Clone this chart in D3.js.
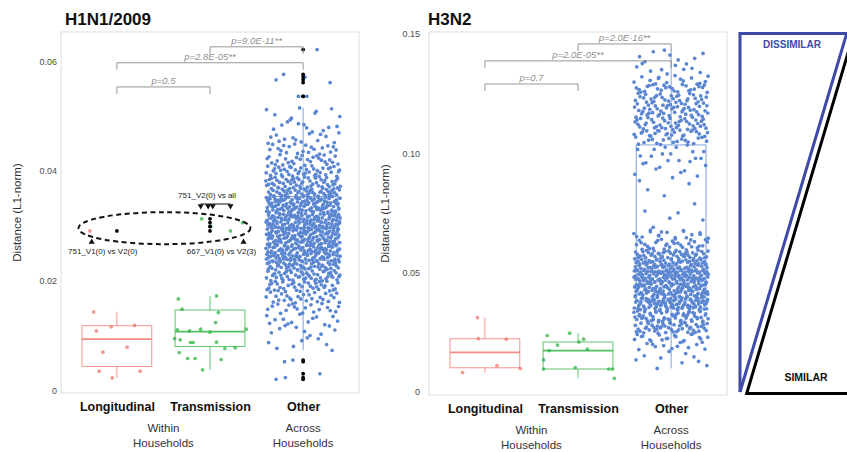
<!DOCTYPE html>
<html>
<head>
<meta charset="utf-8">
<script src="https://cdn.jsdelivr.net/npm/d3@7"></script>
<style>
body{margin:0;background:#fff;}
text{font-family:Arial,"Liberation Sans",sans-serif;}
</style>
</head>
<body>
<div id="chart"></div>
<script>
////////////////////////////////////////
// data
////////////////////////////////////////

var categories = ['Longitudinal','Transmission','Other'];

// H1N1/2009
var h1Longitudinal = [0.01436,0.0109,0.01164,0.0119,0.00703,0.00794,0.00358,0.00358,0.00236,0.0291];
var h1Transmission = [0.01673,0.01727,0.01485,0.01424,0.01242,0.01109,0.0109,0.01121,0.01067,0.01121,0.0095,
	0.00927,0.00879,0.00879,0.00885,0.0077,0.00782,0.00697,0.00588,0.00588,0.0057,0.00382,
	0.0313,0.0306,0.0299,0.0291];
// bulk of the across-household pairs, as counts per band [low, high, count]
var h1OtherBins = [[0.0072,0.0100,8],[0.0100,0.0120,9],[0.0120,0.0140,13],[0.0140,0.0160,19],[0.0160,0.0180,27],
	[0.0180,0.0200,38],[0.0200,0.0220,50],[0.0220,0.0236,50],[0.0236,0.0265,110],[0.0265,0.0295,118],
	[0.0295,0.0325,118],[0.0325,0.0354,112],[0.0354,0.0370,48],[0.0370,0.0390,50],[0.0390,0.0410,38],
	[0.0410,0.0430,28],[0.0430,0.0450,20],[0.0450,0.0470,14],[0.0470,0.0490,10],[0.0490,0.0515,9]];
var h1OtherExtremes = [0.0621,0.0576,0.0571,0.0566,0.0561,0.0536,0.0536,0.0056,0.0053,0.0031,0.0024,0.0021];
var h1Pvalues = ['p=0.5','p=2.8E-05**','p=9.0E-11**'];

// H3N2
var h3Longitudinal = [0.0311,0.0223,0.0221,0.0110,0.0081,0.0098];
var h3Transmission = [0.0236,0.0246,0.0209,0.0221,0.0196,0.0179,0.0173,0.0134,0.0096,0.0102,0.0096,0.0096,0.0057];
var h3OtherBins = [[0.0092,0.0140,5],[0.0140,0.0176,5],[0.0176,0.0210,12],[0.0210,0.0247,20],[0.0247,0.0290,45],
	[0.0290,0.0344,65],[0.0344,0.0400,95],[0.0400,0.0460,100],[0.0460,0.0511,95],[0.0511,0.0555,70],
	[0.0555,0.0595,50],[0.0595,0.0640,30],[0.0640,0.0679,18],[0.0679,0.0800,6],[0.0800,0.0901,5],
	[0.0901,0.0960,8],[0.0960,0.1035,17],[0.1035,0.1070,18],[0.1070,0.1098,22],[0.1098,0.1150,40],
	[0.1150,0.1200,40],[0.1200,0.1253,38],[0.1253,0.1290,25],[0.1290,0.1330,14],[0.1330,0.1378,10],
	[0.1378,0.1433,8]];
var h3OtherExtremes = [];
var h3Pvalues = ['p=0.7','p=2.0E-05**','p=2.0E-16**'];

// jitter offsets (fraction of a category step)
var h1LongJitter = [-0.25,-0.22,-0.06,0.19,-0.15,0.11,-0.19,0.25,-0.05,-0.29];
var h1TransJitter = [-0.34,0.07,-0.30,0.09,0.06,-0.35,-0.22,-0.10,0.0,0.39,-0.38,-0.32,-0.21,-0.18,0.07,0.16,0.27,
	-0.33,-0.24,-0.16,0.12,-0.08,-0.09,0.35,0.01,0.22];
var h1ExtremeJitter = [0.15,-0.21,0.02,-0.29,0.29,-0.05,0.04,-0.11,-0.2,0.18,-0.19,-0.29];
var h3LongJitter = [-0.08,-0.07,0.23,0.13,-0.24,0.38];
var h3TransJitter = [-0.33,-0.09,0.01,0.06,-0.22,0.10,-0.31,-0.37,-0.37,-0.03,0.33,0.37,0.39];

////////////////////////////////////////
// layout
////////////////////////////////////////

var W = 847, H = 452;
var colors = {Longitudinal:'#f3756d', Transmission:'#2fb344', Other:'#5b86d1'};

var svg = d3.select('#chart').append('svg')
	.attr('width',W).attr('height',H);

// quasi-random (Halton) spread of the points of a band, deterministic
function halton(i,b){
	var f = 1, r = 0;
	while(i>0){ f/=b; r+=f*(i%b); i=Math.floor(i/b); }
	return r;
}

function spreadBins(bins,offset){
	var out = [], k = offset;
	bins.forEach(function(b){
		for(var i=0;i<b[2];i++,k++){
			out.push({v:b[0]+(b[1]-b[0])*halton(k,2), j:(halton(k,3)-0.5)*0.8});
		}
	});
	return out;
}

function boxStats(vals){
	var s = vals.slice().sort(d3.ascending);
	var q1 = d3.quantileSorted(s,0.25), med = d3.quantileSorted(s,0.5), q3 = d3.quantileSorted(s,0.75);
	var iqr = q3-q1, lo = q1-1.5*iqr, hi = q3+1.5*iqr;
	var inside = s.filter(function(v){ return v>=lo && v<=hi; });
	return {q1:q1, med:med, q3:q3, wlo:d3.min(inside), whi:d3.max(inside),
		out:s.filter(function(v){ return v<lo || v>hi; })};
}

var panels = [
	{title:'H1N1/2009', left:61, right:359, top:32, bottom:393, domain:[-0.0004,0.0653],
		ticks:[0,0.02,0.04,0.06], pad:4, offset:7,
		groups:{
			Longitudinal:{vals:h1Longitudinal, jit:h1LongJitter},
			Transmission:{vals:h1Transmission, jit:h1TransJitter},
			Other:{bins:h1OtherBins, ext:h1OtherExtremes, jit:h1ExtremeJitter}
		},
		pvals:h1Pvalues, bracketAt:[0.0553,0.0597,0.0626]},
	{title:'H3N2', left:429, right:727, top:32, bottom:395, domain:[-0.0013,0.1508],
		ticks:[0,0.05,0.10,0.15], pad:9, offset:131,
		groups:{
			Longitudinal:{vals:h3Longitudinal, jit:h3LongJitter},
			Transmission:{vals:h3Transmission, jit:h3TransJitter},
			Other:{bins:h3OtherBins, ext:h3OtherExtremes, jit:[]}
		},
		pvals:h3Pvalues, bracketAt:[0.129,0.1387,0.1458]}
];

function tickFmt(d){ return d===0 ? '0' : d3.format('.2f')(d); }

////////////////////////////////////////
// panels
////////////////////////////////////////

panels.forEach(function(p,pi){
	var g = svg.append('g');
	var x = d3.scalePoint().domain(categories).range([p.left,p.right]).padding(0.6);
	var step = x.step();
	var y = d3.scaleLinear().domain(p.domain).range([p.bottom,p.top]);
	p.x = x; p.y = y; p.g = g;

	g.append('rect')
		.attr('x',p.left).attr('y',p.top)
		.attr('width',p.right-p.left).attr('height',p.bottom-p.top)
		.attr('fill','none').attr('stroke','#dedede').attr('stroke-width',1);

	g.append('text')
		.attr('x',p.left+(pi===0?4:-1)).attr('y',25)
		.attr('font-size',17).attr('font-weight','bold').attr('fill','#111')
		.text(p.title);

	var ya = g.append('g')
		.attr('transform','translate('+p.left+',0)')
		.call(d3.axisLeft(y).tickValues(p.ticks).tickFormat(tickFmt).tickSize(0).tickPadding(p.pad));
	ya.select('.domain').remove();
	ya.selectAll('text').attr('font-size',9).attr('fill','#4d4d4d').attr('font-family','Arial');

	g.append('text')
		.attr('transform','translate('+(p.left-40)+','+((p.top+p.bottom)/2)+') rotate(-90)')
		.attr('text-anchor','middle').attr('font-size',11.5).attr('fill','#333')
		.text('Distance (L1-norm)');

	var xa = g.append('g')
		.attr('transform','translate(0,'+p.bottom+')')
		.call(d3.axisBottom(x).tickSize(0).tickPadding(9));
	xa.select('.domain').remove();
	xa.selectAll('text').attr('font-size',12.5).attr('font-weight','bold').attr('fill','#111')
		.attr('font-family','Arial');

	var within = (x('Longitudinal')+x('Transmission'))/2;
	[[within,'Within','Households'],[x('Other'),'Across','Households']].forEach(function(t){
		var tt = g.append('text').attr('text-anchor','middle').attr('font-size',11.5).attr('fill','#333');
		tt.append('tspan').attr('x',t[0]).attr('y',p.bottom+39).text(t[1]);
		tt.append('tspan').attr('x',t[0]).attr('y',p.bottom+53.5).text(t[2]);
	});

	// build point lists
	var pts = {}, stats = {};
	categories.forEach(function(c){
		var gr = p.groups[c], list = [];
		if(gr.vals){
			gr.vals.forEach(function(v,i){ list.push({v:v, j:gr.jit[i]}); });
		} else {
			list = spreadBins(gr.bins,p.offset);
			gr.ext.forEach(function(v,i){ list.push({v:v, j:gr.jit[i]}); });
		}
		pts[c] = list;
		stats[c] = boxStats(list.map(function(d){ return d.v; }));
	});

	// boxes
	var bw = step*0.75;
	categories.forEach(function(c){
		var s = stats[c], cx = x(c), col = colors[c];
		var bg = g.append('g').attr('stroke',col).attr('fill','none').attr('stroke-opacity',0.85);
		bg.append('line').attr('x1',cx).attr('x2',cx).attr('y1',y(s.q3)).attr('y2',y(s.whi)).attr('stroke-width',0.9);
		bg.append('line').attr('x1',cx).attr('x2',cx).attr('y1',y(s.q1)).attr('y2',y(s.wlo)).attr('stroke-width',0.9);
		bg.append('rect').attr('x',cx-bw/2).attr('width',bw)
			.attr('y',y(s.q3)).attr('height',y(s.q1)-y(s.q3)).attr('stroke-width',0.9);
		bg.append('line').attr('x1',cx-bw/2).attr('x2',cx+bw/2)
			.attr('y1',y(s.med)).attr('y2',y(s.med)).attr('stroke-width',1.8);
	});

	// jittered points
	categories.forEach(function(c){
		g.append('g').selectAll('circle')
			.data(pts[c]).enter()
			.append('circle')
			.attr('cx',function(d){ return x(c)+d.j*step; })
			.attr('cy',function(d){ return y(d.v); })
			.attr('r',1.85)
			.attr('fill',colors[c])
			.attr('fill-opacity',c==='Other'?1:0.75);
	});

	// boxplot outliers
	categories.forEach(function(c){
		g.append('g').selectAll('circle')
			.data(stats[c].out).enter()
			.append('circle')
			.attr('cx',x(c))
			.attr('cy',function(d){ return y(d); })
			.attr('r',1.9)
			.attr('fill','#000');
	});

	// significance brackets
	var pairs = [['Longitudinal','Transmission'],['Longitudinal','Other'],['Transmission','Other']];
	pairs.forEach(function(pr,i){
		var yy = y(p.bracketAt[i]), x1 = x(pr[0]), x2 = x(pr[1]);
		g.append('path')
			.attr('d','M'+x1+','+(yy+7)+'V'+yy+'H'+x2+'V'+(yy+7))
			.attr('fill','none').attr('stroke','#8a8a8a').attr('stroke-width',0.9);
		g.append('text')
			.attr('x',(x1+x2)/2).attr('y',yy-3)
			.attr('text-anchor','middle').attr('font-size',9.5).attr('font-style','italic')
			.attr('fill','#8f8f8f')
			.text(p.pvals[i]);
	});
});

////////////////////////////////////////
// H1N1 annotation of the highlighted pairs
////////////////////////////////////////

var p1 = panels[0], ax = p1.x, ay = p1.y, st = ax.step(), ag = p1.g;
var ecx = (ax('Longitudinal')+ax('Transmission'))/2;

ag.append('ellipse')
	.attr('cx',ecx+1).attr('cy',ay(0.0296))
	.attr('rx',86).attr('ry',16)
	.attr('fill','none').attr('stroke','#111').attr('stroke-width',2)
	.attr('stroke-dasharray','5,3.5');

var tri = d3.symbol(d3.symbolTriangle).size(16);
var downMarks = [-0.10,-0.02,0.03,0.22];
downMarks.forEach(function(j){
	ag.append('path')
		.attr('d',tri())
		.attr('transform','translate('+(ax('Transmission')+j*st)+',206) rotate(180)')
		.attr('fill','#111');
});
ag.append('line')
	.attr('x1',ax('Transmission')+downMarks[0]*st).attr('x2',ax('Transmission')+downMarks[3]*st)
	.attr('y1',204).attr('y2',204).attr('stroke','#111').attr('stroke-width',1);
ag.append('text')
	.attr('x',ax('Transmission')-3).attr('y',198)
	.attr('text-anchor','middle').attr('font-size',8).attr('fill','#222')
	.text('751_V2(0) vs all');

[[ax('Longitudinal')-0.27*st,'751_V1(0) vs V2(0)',11],[ax('Transmission')+0.36*st,'667_V1(0) vs V2(3)',-22]]
	.forEach(function(a){
		ag.append('path')
			.attr('d',tri())
			.attr('transform','translate('+a[0]+',242)')
			.attr('fill','#111');
		ag.append('text')
			.attr('x',a[0]+a[2]).attr('y',253.5)
			.attr('text-anchor','middle').attr('font-size',8).attr('fill','#222')
			.text(a[1]);
	});

////////////////////////////////////////
// similarity wedge on the right
////////////////////////////////////////

var wedge = svg.append('g');
wedge.append('path')
	.attr('d','M740,392 L740,33.5 L900,33.5')
	.attr('fill','none').attr('stroke','#3e4aa6').attr('stroke-width',3);
wedge.append('path')
	.attr('d','M740,392 L846.7,33.5')
	.attr('fill','none').attr('stroke','#3e4aa6').attr('stroke-width',3);
wedge.append('path')
	.attr('d','M900,393.5 L746.7,393.5 L856,26')
	.attr('fill','none').attr('stroke','#000').attr('stroke-width',3);
wedge.append('text')
	.attr('x',792).attr('y',48).attr('text-anchor','middle')
	.attr('font-size',10).attr('font-weight','bold').attr('fill','#3e4aa6')
	.text('DISSIMILAR');
wedge.append('text')
	.attr('x',806).attr('y',381).attr('text-anchor','middle')
	.attr('font-size',10.5).attr('font-weight','bold').attr('fill','#111')
	.text('SIMILAR');
</script>
</body>
</html>
